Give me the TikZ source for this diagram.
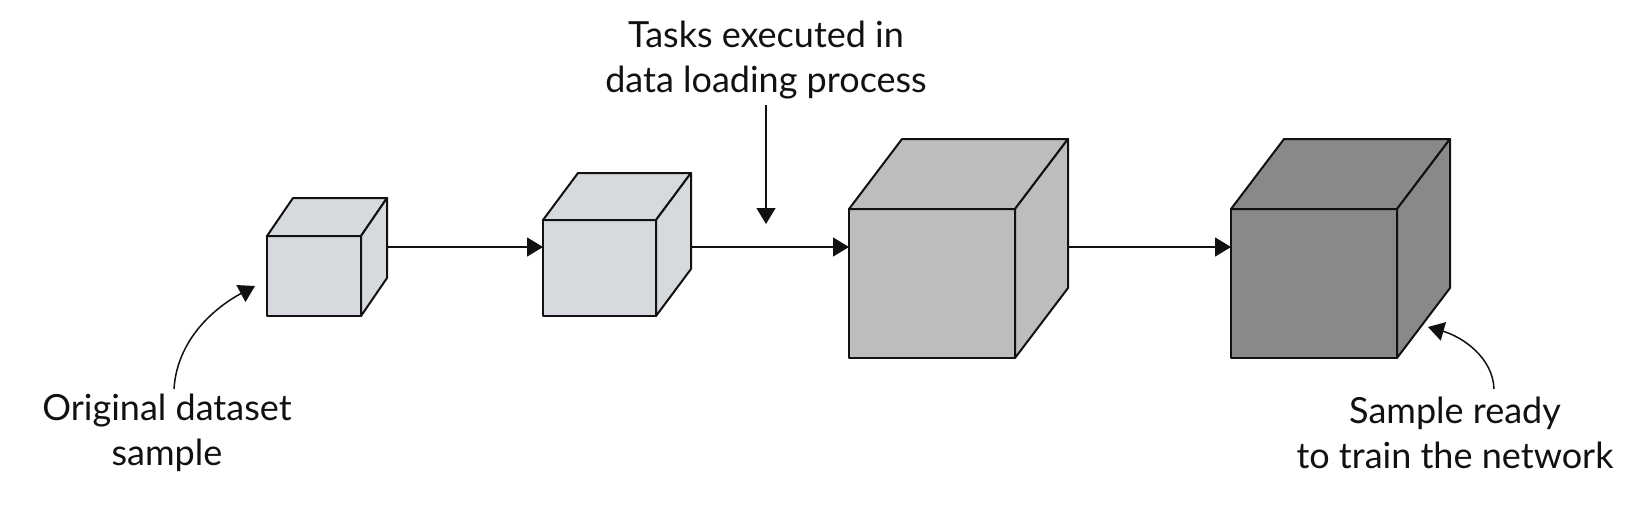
\documentclass[tikz,border=0pt]{standalone}
\usepackage{fontspec}
\setmainfont{Lato}
\usetikzlibrary{arrows.meta}
\definecolor{cubeA}{HTML}{D6DADF}
\definecolor{cubeC}{HTML}{BDBDBD}
\definecolor{cubeD}{HTML}{898989}
\definecolor{inkc}{HTML}{111111}
\tikzset{
  cubeedge/.style={line width=2pt, line join=round, draw=inkc},
  conn/.style={line width=1.5pt, draw=inkc, -{Triangle[length=16pt,width=19pt]}},
  lbl/.style={font=\fontsize{36}{45}\selectfont, inner sep=0pt, text=inkc, align=center}
}
\newcommand\drawcube[8]{%
  \filldraw[fill=#8,cubeedge] (#2,#3) rectangle ++(#4,#5);
  \filldraw[fill=#8,cubeedge] (#2,#3) -- ++(#6,-#7) -- ++(#4,0) -- ++(-#6,#7) -- cycle;
  \filldraw[fill=#8,cubeedge] ({#2+#4},#3) -- ++(#6,-#7) -- ++(0,#5) -- ++(-#6,#7) -- cycle;
  \coordinate (#1-in) at (#2,247);
  \coordinate (#1-out) at ({#2+#4+#6},247);
}
\begin{document}
\begin{tikzpicture}[x=1pt,y=-1pt]
  \useasboundingbox (0,0) rectangle (1650,512);
  \drawcube{c1}{267}{236}{94}{80}{26}{38}{cubeA}
  \drawcube{c2}{543}{220}{113}{96}{35}{47}{cubeA}
  \drawcube{c3}{849}{209}{166}{149}{53}{70}{cubeC}
  \drawcube{c4}{1231}{209}{166}{149}{53}{70}{cubeD}

  \draw[conn] (c1-out) -- (c2-in);
  \draw[conn] (c2-out) -- (c3-in);
  \draw[conn] (c3-out) -- (c4-in);

  \node[lbl] (tasks) at (766,60) {Tasks executed in\\data loading process};
  \coordinate (tasksfrom) at (766,105);
  \coordinate (taskstip) at (766,224);
  \draw[conn] (tasksfrom) -- (taskstip);

  \node[lbl] (orig) at (167,433) {Original dataset\\sample};
  \coordinate (origfrom) at (174,389);
  \coordinate (origtip) at (255,286);
  \draw[conn] (origfrom) .. controls (177,340) and (214,308) .. (origtip);

  \node[lbl] (ready) at (1455,433) {Sample ready\\to train the network};
  \coordinate (readyfrom) at (1494,389);
  \coordinate (readytip) at (1428,327);
  \draw[conn] (readyfrom) .. controls (1493,358) and (1463,337) .. (readytip);
\end{tikzpicture}
\end{document}
